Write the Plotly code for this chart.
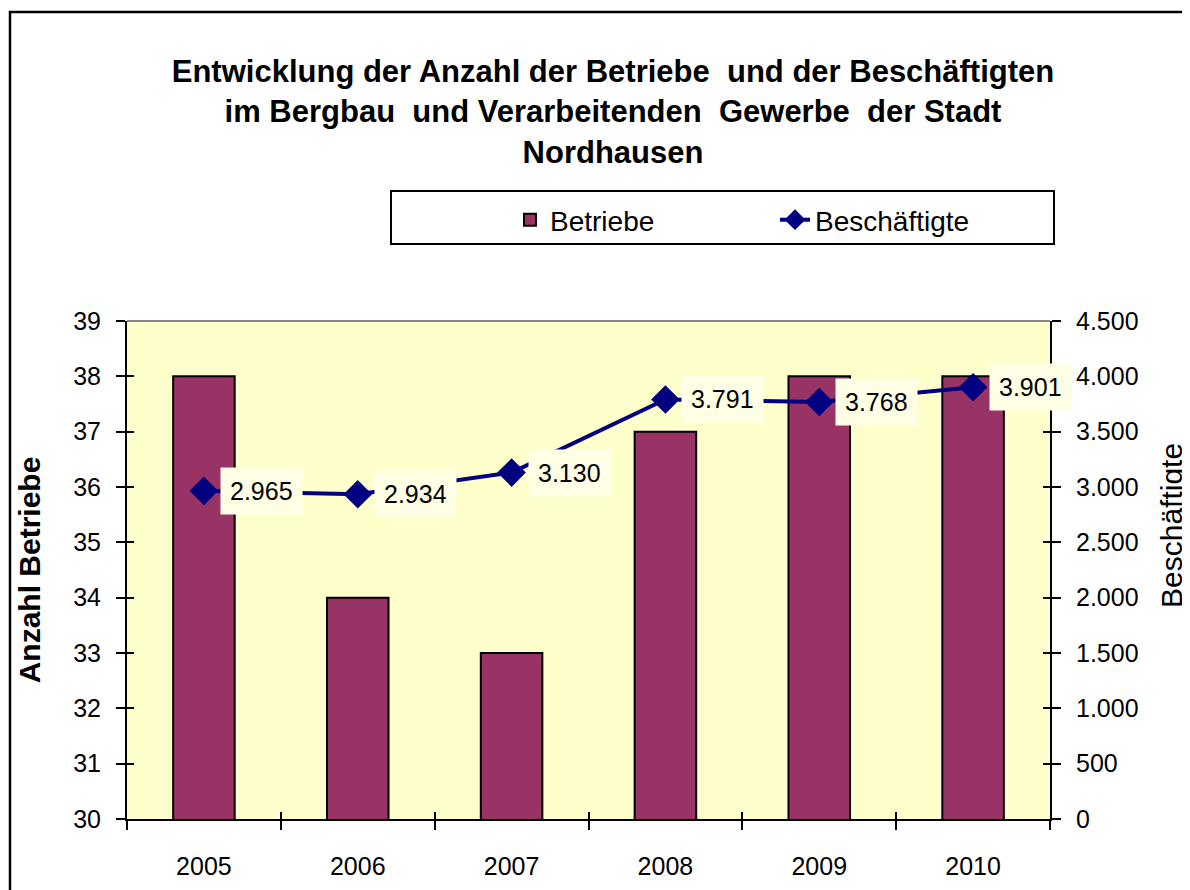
import plotly.graph_objects as go

years = ["2005", "2006", "2007", "2008", "2009", "2010"]
betriebe = [38, 34, 33, 37, 38, 38]
beschaeftigte = [2965, 2934, 3130, 3791, 3768, 3901]

title_lines = ["Entwicklung der Anzahl der Betriebe  und der Beschäftigten",
               "im Bergbau  und Verarbeitenden  Gewerbe  der Stadt",
               "Nordhausen"]

FONT = "Liberation Sans, Arial, sans-serif"
BAR_COLOR = "#993366"
LINE_COLOR = "#000080"

def fmt(v):
    return f"{v:,}".replace(",", ".")

idx = list(range(len(years)))
bounds = [i - 0.5 for i in range(len(years) + 1)]

fig = go.Figure()
fig.add_trace(go.Bar(
    x=idx, y=betriebe, name="Betriebe", width=0.4,
    marker=dict(color=BAR_COLOR, line=dict(color="black", width=2)),
    yaxis="y", xaxis="x",
))
fig.add_trace(go.Scatter(
    x=idx, y=beschaeftigte, name="Beschäftigte", mode="lines+markers",
    line=dict(color=LINE_COLOR, width=4),
    marker=dict(symbol="diamond", size=22, color=LINE_COLOR),
    yaxis="y2", xaxis="x",
))
# empty helper traces so the tick-only overlay axes get drawn (crossing ticks)
fig.add_trace(go.Scatter(x=[], y=[], xaxis="x2", yaxis="y3", showlegend=False,
                         hoverinfo="skip", mode="markers"))
fig.add_trace(go.Scatter(x=[], y=[], xaxis="x", yaxis="y4", showlegend=False,
                         hoverinfo="skip", mode="markers"))

OFF = 7  # page offset of the figure in the screenshot
W, H = 1190, 890
L = 126 - OFF
T = 320 - OFF
R = W - (1049 - OFF)
B = H - (818 - OFF)
pw, ph = W - L - R, H - T - B

def px_x(x):  # page pixel -> paper x
    return (x - OFF - L) / pw

def px_y(y):  # page pixel -> paper y
    return (H - B - (y - OFF)) / ph

annotations = []
for i, v in zip(idx, beschaeftigte):
    annotations.append(dict(
        x=i, y=v, xref="x", yref="y2", text=fmt(v), showarrow=False,
        xanchor="left", yanchor="middle", xshift=16,
        bgcolor="#FFFFE6", borderpad=9,
        font=dict(family=FONT, size=25, color="black"),
    ))
annotations.append(dict(
    text="Beschäftigte", textangle=-90, showarrow=False,
    xref="paper", yref="paper", x=px_x(1170), y=px_y(525),
    xanchor="center", yanchor="middle",
    font=dict(family=FONT, size=30, color="black"),
))

shapes = [
    dict(type="rect", xref="paper", yref="paper",
         x0=px_x(9), x1=px_x(W + 20), y0=px_y(H + 20), y1=px_y(11),
         line=dict(color="black", width=2.5), fillcolor="rgba(0,0,0,0)", layer="below"),
    dict(type="line", xref="paper", yref="paper", x0=0, x1=1, y0=1, y1=1,
         line=dict(color="#888888", width=2)),
    dict(type="rect", xref="paper", yref="paper",
         x0=px_x(390), x1=px_x(1053), y0=px_y(243), y1=px_y(190),
         line=dict(color="black", width=2), fillcolor="white", layer="below"),
]

tick_common = dict(tickwidth=2, tickcolor="black", showgrid=False, zeroline=False,
                   automargin=False)

fig.update_layout(
    width=W, height=H,
    margin=dict(l=L, r=R, t=T, b=B, autoexpand=False),
    paper_bgcolor="white", plot_bgcolor="#FFFFCC",
    separators=",.",
    font=dict(family=FONT, size=25, color="black"),
    title=dict(text="<br>".join(title_lines), x=(612 - OFF) / W, xanchor="center",
               y=1 - (81 - OFF) / H, yanchor="top", xref="container", yref="container",
               font=dict(family=FONT, size=31, color="black", weight="bold")),
    showlegend=True,
    legend=dict(orientation="h", x=(509 - OFF) / W, xref="container", xanchor="left",
                y=1 - (194 - OFF) / H, yref="container", yanchor="top",
                borderwidth=0, bgcolor="rgba(0,0,0,0)",
                font=dict(family=FONT, size=28), entrywidth=220,
                traceorder="normal"),
    xaxis=dict(range=[-0.5, len(years) - 0.5], showline=True, linecolor="black", linewidth=2,
               tickvals=idx, ticktext=years, ticks="",
               minor=dict(tickvals=bounds, ticks="outside", ticklen=9, tickwidth=2,
                          tickcolor="black", showgrid=False),
               showgrid=False, zeroline=False, automargin=False,
               ticklabelstandoff=24, tickfont=dict(size=25)),
    xaxis2=dict(overlaying="x", anchor="y3", side="bottom", range=[-0.5, len(years) - 0.5],
                tickvals=bounds, ticks="inside", ticklen=7, showticklabels=False,
                showline=False, **tick_common),
    yaxis=dict(range=[30, 39], dtick=1, showline=True, linecolor="black", linewidth=2,
               ticks="outside", ticklen=9, ticklabelstandoff=10,
               title=dict(text="Anzahl Betriebe", standoff=24,
                          font=dict(size=30, weight="bold")), **tick_common),
    yaxis3=dict(overlaying="y", anchor="x2", side="left", range=[30, 39], dtick=1,
                ticks="inside", ticklen=7, showticklabels=False, showline=False,
                **tick_common),
    yaxis2=dict(overlaying="y", side="right", range=[0, 4500], dtick=500,
                tickformat=",", showline=True, linecolor="black", linewidth=2,
                ticks="outside", ticklen=9, ticklabelstandoff=10, **tick_common),
    yaxis4=dict(overlaying="y", anchor="x", side="right", range=[0, 4500], dtick=500,
                ticks="inside", ticklen=7, showticklabels=False, showline=False,
                **tick_common),
    annotations=annotations,
    shapes=shapes,
)

fig.write_html("out.html")
